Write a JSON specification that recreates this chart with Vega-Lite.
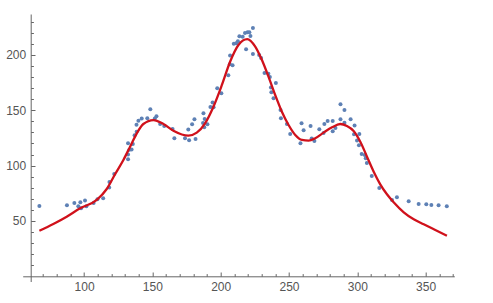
{
  "$schema": "https://vega.github.io/schema/vega-lite/v6.json",
  "autosize": "none",
  "padding": {"left": 22.7, "top": 14, "right": 38.7, "bottom": 21.5},
  "width": 431.6,
  "height": 267.5,
  "background": "white",
  "config": {"view": {"stroke": null}},
  "datasets": {
    "pts": [
      {"x":67.3,"y":63.5},{"x":87.5,"y":64.1},{"x":92.9,"y":66.2},{"x":95.8,"y":63.2},{"x":97.3,"y":66.9},{"x":97.8,"y":61.4},{"x":100.7,"y":68.5},{"x":101.7,"y":63.3},{"x":107.0,"y":66.2},{"x":109.8,"y":69.6},{"x":114.0,"y":70.5},{"x":118.4,"y":80.3},{"x":118.6,"y":85.2},{"x":122.1,"y":92.4},
      {"x":132.2,"y":105.7},{"x":132.2,"y":110.0},{"x":133.2,"y":114.4},{"x":134.8,"y":114.6},{"x":132.2,"y":120.2},{"x":135.7,"y":119.6},{"x":137.0,"y":127.4},{"x":138.5,"y":130.5},{"x":138.4,"y":137.0},{"x":139.8,"y":140.6},{"x":142.2,"y":142.6},{"x":146.3,"y":142.8},{"x":148.5,"y":150.9},{"x":153.0,"y":144.6},{"x":151.8,"y":142.5},
      {"x":155.7,"y":137.5},{"x":158.7,"y":135.7},{"x":164.8,"y":133.0},{"x":166.1,"y":124.8},{"x":173.9,"y":124.8},{"x":176.9,"y":122.9},{"x":176.3,"y":132.7},{"x":179.1,"y":137.3},{"x":180.8,"y":142.0},{"x":181.6,"y":124.0},{"x":187.4,"y":147.3},{"x":188.3,"y":142.1},{"x":187.1,"y":138.5},{"x":188.0,"y":134.6},{"x":190.3,"y":137.4},{"x":192.5,"y":153.0},{"x":194.1,"y":157.0},{"x":194.8,"y":152.7},{"x":197.5,"y":169.8},{"x":200.5,"y":165.4},{"x":205.6,"y":181.6},{"x":206.7,"y":191.6},{"x":208.7,"y":190.8},{"x":206.9,"y":199.6},{"x":209.6,"y":210.2},{"x":211.4,"y":210.5},{"x":212.6,"y":212.3},{"x":213.7,"y":216.8},{"x":216.1,"y":216.5},{"x":217.8,"y":219.9},{"x":219.7,"y":220.5},{"x":221.0,"y":220.6},{"x":218.6,"y":205.1},{"x":221.8,"y":217.1},{"x":223.6,"y":224.4},{"x":223.6,"y":200.9},{"x":228.2,"y":200.0},{"x":229.6,"y":197.2},{"x":232.1,"y":183.6},{"x":234.9,"y":183.0},{"x":236.0,"y":180.0},{"x":240.4,"y":174.6},{"x":236.8,"y":170.6},{"x":237.1,"y":166.3},{"x":238.7,"y":160.8},{"x":243.8,"y":150.3},{"x":244.1,"y":142.8},{"x":248.5,"y":137.6},{"x":250.9,"y":128.5},{"x":258.4,"y":120.2},{"x":259.2,"y":138.3},{"x":260.7,"y":132.0},{"x":265.8,"y":135.8},{"x":266.6,"y":124.4},{"x":268.6,"y":122.2},{"x":272.2,"y":132.8},{"x":275.3,"y":129.5},{"x":275.9,"y":137.6},{"x":278.3,"y":140.3},{"x":282.0,"y":140.3},{"x":282.0,"y":131.0},{"x":284.0,"y":134.0},{"x":287.7,"y":142.0},{"x":287.7,"y":155.5},{"x":290.6,"y":150.3},{"x":290.6,"y":138.7},{"x":295.1,"y":142.0},{"x":298.0,"y":136.2},{"x":297.6,"y":128.3},{"x":301.5,"y":128.5},{"x":299.8,"y":122.8},{"x":301.2,"y":118.5},{"x":303.2,"y":110.5},{"x":305.5,"y":109.6},{"x":306.2,"y":106.6},{"x":307.0,"y":102.3},{"x":310.6,"y":90.6},{"x":316.1,"y":79.7},{"x":325.4,"y":68.9},{"x":329.0,"y":71.4},{"x":337.6,"y":67.9},{"x":344.9,"y":65.3},{"x":350.5,"y":65.2},{"x":354.2,"y":64.4},{"x":359.5,"y":64.3},{"x":365.5,"y":63.4}
    ],
    "fit": [
      {"x":67.3,"y":41.2},{"x":77.5,"y":47.3},{"x":87.3,"y":53.9},{"x":97.1,"y":61.4},{"x":109.3,"y":69.0},{"x":116.6,"y":78.9},{"x":122.7,"y":92.2},{"x":128.8,"y":105.1},{"x":133.7,"y":117.1},{"x":138.6,"y":129.2},{"x":143.4,"y":137.6},{"x":150.8,"y":141.2},{"x":158.1,"y":137.6},{"x":165.4,"y":131.6},{"x":176.4,"y":127.1},{"x":182.5,"y":129.8},{"x":188.6,"y":138.2},{"x":194.7,"y":153.2},{"x":200.9,"y":172.9},{"x":206.9,"y":193.9},{"x":213.0,"y":209.0},{"x":219.5,"y":214.3},{"x":225.3,"y":207.5},{"x":230.2,"y":195.4},{"x":235.0,"y":180.4},{"x":239.9,"y":163.8},{"x":244.8,"y":148.7},{"x":249.7,"y":136.7},{"x":254.6,"y":127.7},{"x":259.5,"y":123.2},{"x":264.4,"y":122.6},{"x":269.2,"y":124.7},{"x":275.3,"y":129.8},{"x":281.5,"y":134.6},{"x":287.5,"y":137.6},{"x":292.4,"y":135.8},{"x":297.3,"y":131.3},{"x":302.2,"y":121.6},{"x":307.1,"y":108.1},{"x":312.0,"y":94.5},{"x":316.8,"y":83.1},{"x":321.7,"y":74.1},{"x":326.6,"y":66.9},{"x":334.0,"y":57.8},{"x":341.3,"y":51.5},{"x":348.6,"y":47.0},{"x":356.0,"y":42.5},{"x":365.6,"y":36.7}
    ]
  },
  "layer": [
    {
      "data": {"name": "pts"},
      "mark": {"type": "point", "filled": true, "size": 16, "color": "#5E81B5", "opacity": 1},
      "encoding": {
        "x": {"field": "x", "type": "quantitative", "scale": {"domain": [55.1, 371], "nice": false, "zero": false},
          "axis": {"orient": "bottom", "offset": -5.2, "values": [100,150,200,250,300,350], "title": null, "grid": false,
            "tickSize": -4.3, "labelPadding": 9.3, "domainColor": "#666666", "tickColor": "#666666", "labelColor": "#555555",
            "labelFont": "Liberation Sans", "labelFontSize": 12, "labelFlush": false, "labelOverlap": false}},
        "y": {"field": "y", "type": "quantitative", "scale": {"domain": [-4.7, 237], "nice": false, "zero": false},
          "axis": {"orient": "left", "offset": -8, "values": [50,100,150,200], "title": null, "grid": false,
            "tickSize": -4.3, "labelPadding": 9.3, "domainColor": "#666666", "tickColor": "#666666", "labelColor": "#555555",
            "labelFont": "Liberation Sans", "labelFontSize": 12, "labelFlush": false, "labelOverlap": false}}
      }
    },
    {
      "data": {"name": "fit"},
      "mark": {"type": "line", "color": "#d0111b", "strokeWidth": 2.3, "interpolate": "monotone"},
      "encoding": {
        "x": {"field": "x", "type": "quantitative",
          "axis": {"orient": "bottom", "offset": -5.2, "values": [70,80,90,110,120,130,140,160,170,180,190,210,220,230,240,260,270,280,290,310,320,330,340,360,370], "title": null, "grid": false,
            "labels": false, "domain": false, "tickSize": -2.7, "tickColor": "#666666"}},
        "y": {"field": "y", "type": "quantitative",
          "axis": {"orient": "left", "offset": -8, "values": [10,20,30,40,60,70,80,90,110,120,130,140,160,170,180,190,210,220,230], "title": null, "grid": false,
            "labels": false, "domain": false, "tickSize": -2.7, "tickColor": "#666666"}}
      }
    }
  ],
  "resolve": {"axis": {"x": "independent", "y": "independent"}}
}
